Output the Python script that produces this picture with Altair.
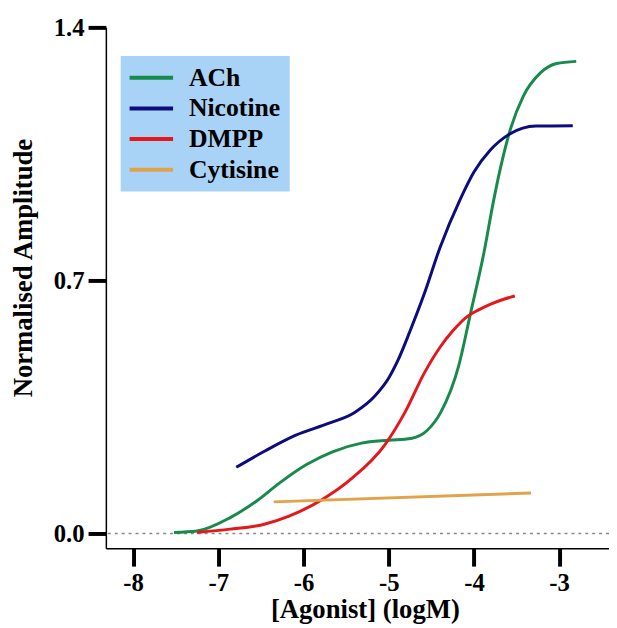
import altair as alt
import pandas as pd

series = ["ACh", "Nicotine", "DMPP", "Cytisine"]
colors = ["#178a4c", "#0c0c7e", "#e3171c", "#e2a24a"]

ach_x = [-7.52, -7.25, -6.86, -6.55, -6.28, -5.97, -5.66, -5.32, -5.0, -4.74, -4.55, -4.39,
         -4.18, -4.04, -3.88, -3.77, -3.69, -3.57, -3.42, -3.22, -3.03, -2.80]
ach_y = [0.003, 0.007, 0.044, 0.09, 0.14, 0.19, 0.226, 0.25, 0.258, 0.263, 0.285, 0.335,
         0.463, 0.609, 0.78, 0.92, 1.01, 1.12, 1.21, 1.274, 1.30, 1.306]

nic_x = [-6.79, -6.47, -6.09, -5.70, -5.40, -5.16, -5.00, -4.89, -4.75, -4.58, -4.40,
         -4.16, -4.00, -3.81, -3.58, -3.27, -2.84]
nic_y = [0.183, 0.226, 0.272, 0.305, 0.335, 0.381, 0.43, 0.48, 0.56, 0.665, 0.79,
         0.925, 1.00, 1.06, 1.105, 1.127, 1.128]

dmpp_x = [-7.25, -6.86, -6.47, -6.17, -5.78, -5.43, -5.05, -4.81, -4.58, -4.39, -4.25,
          -4.08, -3.95, -3.81, -3.65, -3.52]
dmpp_y = [0.003, 0.012, 0.025, 0.048, 0.094, 0.153, 0.244, 0.335, 0.445, 0.518, 0.56,
          0.60, 0.618, 0.634, 0.648, 0.657]

cyt_x = [-6.35, -3.33]
cyt_y = [0.0875, 0.112]

x_ticks = [-8, -7, -6, -5, -4, -3]
y_ticks = [0.0, 0.7, 1.4]

rows = []
for name, xs, ys in [("ACh", ach_x, ach_y), ("Nicotine", nic_x, nic_y),
                     ("DMPP", dmpp_x, dmpp_y), ("Cytisine", cyt_x, cyt_y)]:
    for i, (a, b) in enumerate(zip(xs, ys)):
        rows.append({"agonist": name, "logM": a, "amp": b, "order": i})
df = pd.DataFrame(rows)

FONT = "Liberation Serif"
XDOM = [-8.32, -2.415]
YDOM = [-0.041, 1.4]

x_enc = alt.X(
    "logM:Q",
    scale=alt.Scale(domain=XDOM, nice=False, zero=False),
    axis=alt.Axis(
        values=x_ticks,
        labelExpr="'' + datum.value",
        labelPadding=5,
        title="[Agonist] (logM)",
        titleX=262,
        titleY=70,
        titleBaseline="alphabetic",
    ),
)
y_enc = alt.Y(
    "amp:Q",
    scale=alt.Scale(domain=YDOM, nice=False, zero=False),
    axis=alt.Axis(
        values=y_ticks,
        format=".1f",
        labelPadding=4,
        title="Normalised Amplitude",
        titleX=-75,
        titleY=243,
        titleBaseline="alphabetic",
    ),
)

zero = alt.Chart(pd.DataFrame({"z": [0.0]})).mark_rule(
    color="#888888", strokeDash=[3, 4], strokeWidth=1.5
).encode(y=alt.Y("z:Q", scale=alt.Scale(domain=YDOM, nice=False, zero=False)))

lines = alt.Chart(df).mark_line(strokeWidth=3, interpolate="monotone").encode(
    x=x_enc,
    y=y_enc,
    order="order:Q",
    color=alt.Color(
        "agonist:N",
        scale=alt.Scale(domain=series, range=colors),
        sort=series,
        legend=alt.Legend(
            title=None,
            orient="none",
            legendX=15,
            legendY=29,
            fillColor="#a8d3f7",
            padding=9,
            symbolType="M-2,0H2",
            symbolSize=484,
            symbolOffset=9,
            symbolStrokeWidth=4,
            labelFont=FONT,
            labelFontWeight="bold",
            labelFontSize=26,
            labelColor="black",
            labelOffset=25,
            rowPadding=5,
        ),
    ),
)

chart = alt.layer(zero, lines).properties(
    width=509,
    height=527,
    autosize=alt.AutoSizeParams(type="none"),
    padding={"left": 99, "top": 16, "right": 0, "bottom": 76},
).configure_view(stroke=None).configure_axis(
    grid=False,
    domainColor="black",
    domainWidth=1.5,
    tickColor="black",
    tickWidth=4,
    tickSize=18,
    labelFont=FONT,
    labelFontWeight="bold",
    labelFontSize=25,
    labelColor="black",
    titleFont=FONT,
    titleFontWeight="bold",
    titleFontSize=27,
    titleColor="black",
)

chart.save("out.html", embed_options={"renderer": "svg", "actions": False})
